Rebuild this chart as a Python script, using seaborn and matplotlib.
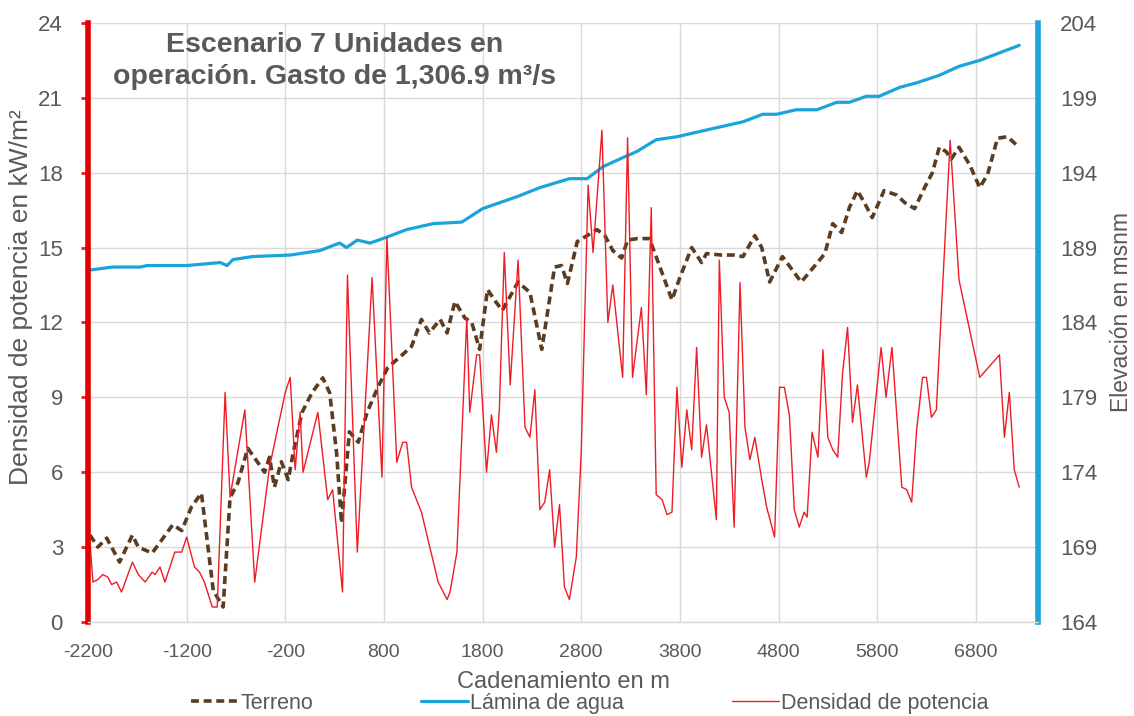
import numpy as np
import pandas as pd
import matplotlib
matplotlib.use("Agg")
import matplotlib.pyplot as plt
import seaborn as sns

# Densidad de potencia (kW/m2) vs cadenamiento (m)
dens_x = [-2180, -2150, -2100, -2050, -2000, -1960, -1910, -1860, -1750, -1690,
          -1620, -1550, -1520, -1470, -1420, -1320, -1250, -1200, -1120, -1070,
          -1020, -940, -890, -810, -760, -610, -510, -360, -200, -150,
          -100, -50, -20, 130, 230, 280, 380, 430, 530, 680,
          780, 830, 930, 990, 1030, 1080, 1180, 1350, 1440, 1470,
          1540, 1640, 1670, 1740, 1770, 1840, 1890, 1940, 1970, 2020,
          2080, 2160, 2230, 2280, 2330, 2380, 2430, 2480, 2530, 2580,
          2630, 2680, 2750, 2800, 2870, 2920, 3010, 3070, 3120, 3220,
          3270, 3320, 3410, 3460, 3510, 3560, 3620, 3670, 3720, 3770,
          3820, 3870, 3920, 3970, 4020, 4070, 4170, 4200, 4250, 4300,
          4350, 4410, 4460, 4510, 4560, 4630, 4680, 4760, 4810, 4860,
          4910, 4960, 5010, 5060, 5090, 5140, 5200, 5250, 5300, 5350,
          5400, 5450, 5500, 5550, 5600, 5690, 5720, 5840, 5890, 5950,
          6050, 6100, 6150, 6200, 6260, 6300, 6350, 6400, 6450, 6540,
          6630, 6840, 7040, 7090, 7140, 7190, 7240]
dens_y = [3.2, 1.6, 1.7, 1.9, 1.8, 1.5, 1.6, 1.2, 2.4, 1.9,
          1.6, 2.0, 1.9, 2.2, 1.6, 2.8, 2.8, 3.4, 2.2, 2.0,
          1.6, 0.6, 0.6, 9.2, 5.0, 8.5, 1.6, 6.2, 9.2, 9.8,
          6.1, 8.4, 6.0, 8.4, 4.9, 5.3, 1.2, 13.9, 2.8, 13.8,
          5.8, 15.4, 6.4, 7.2, 7.2, 5.4, 4.4, 1.6, 0.9, 1.2,
          2.8, 12.2, 8.4, 10.7, 10.7, 6.0, 8.3, 6.8, 8.5, 14.8,
          9.5, 14.5, 7.8, 7.4, 9.3, 4.5, 4.8, 6.1, 3.0, 4.7,
          1.4, 0.9, 2.6, 6.8, 17.5, 14.8, 19.7, 12.0, 13.5, 9.8,
          19.4, 9.8, 12.6, 9.1, 16.6, 5.1, 4.9, 4.3, 4.4, 9.4,
          6.2, 8.5, 6.9, 11.0, 6.6, 7.9, 4.1, 14.5, 9.0, 8.4,
          3.8, 13.6, 7.8, 6.5, 7.4, 5.7, 4.6, 3.4, 9.4, 9.4,
          8.3, 4.5, 3.8, 4.4, 4.2, 7.6, 6.6, 10.9, 7.4, 6.9,
          6.6, 10.0, 11.8, 8.0, 9.5, 5.8, 6.4, 11.0, 9.0, 11.0,
          5.4, 5.3, 4.8, 7.7, 9.8, 9.8, 8.2, 8.5, 12.4, 19.3,
          13.7, 9.8, 10.7, 7.4, 9.2, 6.1, 5.4]

# Terreno (msnm)
ter_x = [-2180, -2100, -2010, -1880, -1750, -1690, -1550, -1450, -1340, -1250,
         -1150, -1050, -980, -930, -830, -760, -680, -580, -410, -360,
         -310, -240, -170, -120, -30, 70, 180, 250, 320, 370,
         450, 540, 630, 740, 840, 980, 1080, 1180, 1260, 1370,
         1440, 1520, 1620, 1690, 1770, 1850, 1920, 2000, 2160, 2280,
         2400, 2530, 2600, 2660, 2760, 2860, 2960, 3040, 3120, 3210,
         3270, 3370, 3490, 3570, 3720, 3800, 3920, 4020, 4070, 4220,
         4350, 4440, 4560, 4630, 4710, 4840, 5030, 5170, 5270, 5350,
         5440, 5520, 5600, 5670, 5750, 5870, 6000, 6080, 6180, 6280,
         6360, 6430, 6500, 6550, 6630, 6740, 6840, 6920, 7020, 7120, 7240]
ter_y = [169.8, 169.0, 169.6, 168.0, 169.8, 169.0, 168.6, 169.5, 170.5, 170.1,
         171.7, 172.6, 168.8, 166.1, 165.0, 172.3, 173.3, 175.6, 174.0, 175.0,
         173.0, 174.7, 173.5, 175.3, 178.0, 179.3, 180.3, 179.3, 175.3, 170.6,
         176.7, 176.0, 178.0, 179.7, 181.0, 181.8, 182.4, 184.2, 183.3, 184.2,
         183.3, 185.4, 184.3, 184.0, 182.2, 186.2, 185.5, 184.8, 186.7, 186.0,
         182.2, 187.7, 187.8, 186.6, 189.4, 189.8, 190.2, 189.8, 188.8, 188.3,
         189.5, 189.6, 189.6, 188.2, 185.5, 187.0, 189.0, 188.0, 188.6, 188.5,
         188.5, 188.4, 189.8, 189.0, 186.7, 188.4, 186.7, 187.8, 188.6, 190.6,
         190.0, 191.7, 192.8, 192.0, 191.0, 192.8, 192.5, 192.0, 191.6, 193.0,
         194.0, 195.7, 195.4, 194.9, 195.7, 194.5, 193.0, 193.9, 196.3, 196.4, 195.7]

# Lamina de agua (msnm)
lam_x = [-2180, -1950, -1670, -1600, -1200, -860, -790, -730, -530, -150,
         150, 350, 420, 530, 660, 830, 1030, 1300, 1590, 1800,
         2150, 2380, 2680, 2860, 3020, 3220, 3360, 3560, 3770, 3970,
         4170, 4440, 4640, 4780, 4980, 5190, 5390, 5520, 5690, 5820,
         6030, 6200, 6430, 6630, 6840, 7040, 7240]
lam_y = [187.5, 187.7, 187.7, 187.8, 187.8, 188.0, 187.8, 188.2, 188.4, 188.5,
         188.8, 189.3, 189.0, 189.5, 189.3, 189.7, 190.2, 190.6, 190.7, 191.6,
         192.4, 193.0, 193.6, 193.6, 194.4, 195.0, 195.4, 196.2, 196.4, 196.7,
         197.0, 197.4, 197.9, 197.9, 198.2, 198.2, 198.7, 198.7, 199.1, 199.1,
         199.7, 200.0, 200.5, 201.1, 201.5, 202.0, 202.5]

xticks = list(range(-2200, 7000, 1000))

dens = pd.DataFrame({"x": dens_x, "y": dens_y})
ter = pd.DataFrame({"x": ter_x, "y": ter_y})
lam = pd.DataFrame({"x": lam_x, "y": lam_y})

sns.set_style("white")
plt.rcParams["font.family"] = ["Liberation Sans", "DejaVu Sans"]
plt.rcParams["axes.unicode_minus"] = False
gray = "#595959"
red = "#ee1c25"
blue = "#1ba3dc"
brown = "#5a3c20"

fig = plt.figure(figsize=(11.34, 7.16), dpi=100)
ax = fig.add_axes([0.0776, 0.1313, 0.8377, 0.8367])
ax2 = ax.twinx()

sns.lineplot(data=ter, x="x", y="y", ax=ax2, color=brown, lw=2.6,
             linestyle=(0, (2.2, 1.3)), label="Terreno", legend=False)
sns.lineplot(data=lam, x="x", y="y", ax=ax2, color=blue, lw=2.3,
             label="Lámina de agua", legend=False)
sns.lineplot(data=dens, x="x", y="y", ax=ax, color=red, lw=1.0,
             label="Densidad de potencia", legend=False)

ax.set_zorder(ax2.get_zorder() + 1)
ax.patch.set_visible(False)

ax.set_xlim(-2200, 7430)
ax.set_ylim(0, 24)
ax2.set_ylim(164, 204)
ax.set_yticks(np.arange(0, 25, 3))
ax2.set_yticks(np.arange(164, 205, 5))
ax.set_xticks(xticks)

ax2.grid(True, color="#d9d9d9", lw=1)
ax2.set_axisbelow(True)
ax.grid(False)
ax2.xaxis.grid(False)
for xv in xticks:
    ax2.axvline(xv, color="#d9d9d9", lw=1, zorder=0)

ax.tick_params(axis="y", colors=gray, labelsize=16, length=5, width=2, pad=13)
ax.tick_params(axis="y", color=red)
ax.tick_params(axis="x", colors=gray, labelsize=14, length=4, width=1, pad=12)
ax.tick_params(axis="x", color="#bfbfbf")
ax2.tick_params(axis="y", colors=gray, labelsize=16, length=0, pad=16)

for a in (ax, ax2):
    for s in a.spines.values():
        s.set_visible(False)
ax.spines["left"].set_visible(True)
ax.spines["left"].set_color("#e00000")
ax.spines["left"].set_linewidth(4)
ax2.spines["right"].set_visible(True)
ax2.spines["right"].set_color(blue)
ax2.spines["right"].set_linewidth(4)
ax.spines["bottom"].set_visible(True)
ax.spines["bottom"].set_color("#d9d9d9")
ax.spines["bottom"].set_linewidth(1)

ax.set_xlabel("Cadenamiento en m", fontsize=17, color=gray, labelpad=7)
ax.set_ylabel("Densidad de potencia en kW/m²", fontsize=19, color=gray)
ax.yaxis.set_label_coords(-0.058, 0.543)
ax2.set_ylabel("Elevación en msnm", fontsize=16.5, color=gray)
ax2.yaxis.set_label_coords(1.0755, 0.518)

ax.text(0.26, 0.937, "Escenario 7 Unidades en\noperación. Gasto de 1,306.9 m³/s",
        transform=ax.transAxes, ha="center", va="center", fontsize=20.5,
        fontweight="bold", color=gray, linespacing=1.3)

h2, l2 = ax2.get_legend_handles_labels()
h1, l1 = ax.get_legend_handles_labels()
fig.legend(h2 + h1, l2 + l1, loc="center", bbox_to_anchor=(0.52, 0.018),
           ncol=3, frameon=False, fontsize=15.5, labelcolor=gray,
           handlelength=2.2, handletextpad=0.1, columnspacing=5.0)

fig.savefig("out.png", dpi=100)
